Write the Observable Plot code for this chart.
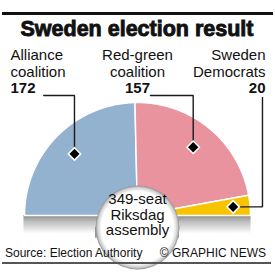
<!DOCTYPE html>
<html><head><meta charset="utf-8">
<script src="https://cdn.jsdelivr.net/npm/d3@7"></script>
<script src="https://cdn.jsdelivr.net/npm/@observablehq/plot@0.6"></script>
<style>
html,body{margin:0;padding:0;background:#fff;}
#wrap{position:relative;width:275px;height:275px;overflow:hidden;font-family:"Liberation Sans",Arial,sans-serif;color:#111;}
#rule-top{position:absolute;left:2px;top:12px;width:271px;height:3px;background:#111;}
#title{position:absolute;left:0;top:19px;width:274px;text-align:center;font-size:21.5px;line-height:21px;font-weight:bold;-webkit-text-stroke:0.9px #111;white-space:nowrap;}
#chart{position:absolute;left:0;top:42px;width:275px;height:203px;}
#source{position:absolute;left:5px;top:247px;font-size:12px;line-height:12px;white-space:nowrap;}
#credit{position:absolute;right:9px;top:247px;font-size:12px;line-height:12px;white-space:nowrap;}
#rule-bottom{position:absolute;left:2px;top:262px;width:269px;height:2px;background:#555;}
</style></head>
<body>
<div id="wrap">
  <div id="rule-top"></div>
  <div id="title"></div>
  <div id="chart"></div>
  <div id="source"></div>
  <div id="credit"></div>
  <div id="rule-bottom"></div>
</div>
<script>
// ---- data ----
const titleText = "Sweden election result";
const parties = ["Alliance coalition", "Red-green coalition", "Sweden Democrats"];
const labelLine1 = ["Alliance", "Red-green", "Sweden"];
const labelLine2 = ["coalition", "coalition", "Democrats"];
const seats = [172, 157, 20];
const colors = ["#93b2cf", "#e9939f", "#f8c400"];
const centerWords = ["Riksdag", "assembly"];
const sourceText = "Source: Election Authority";
const creditText = "© GRAPHIC NEWS";

document.getElementById("title").textContent = titleText;
document.getElementById("source").textContent = sourceText;
document.getElementById("credit").textContent = creditText;

// ---- geometry (units: outer radius = 1) ----
const W = 275, H = 203, CX = 137, CY = 173, R = 113;
const total = d3.sum(seats);
const centerLines = [`${total}-seat`, ...centerWords];

let cum = 0;
const segs = seats.map((s, i) => {
  const a0 = Math.PI * (1 - cum / total);
  cum += s;
  const a1 = Math.PI * (1 - cum / total);
  return {i, party: parties[i], a0, a1, mid: (a0 + a1) / 2};
});

const wedgePts = segs.flatMap(sg => {
  const n = 90;
  const pts = [{party: sg.party, x: 0, y: 0}];
  for (let k = 0; k <= n; k++) {
    const a = sg.a0 + (sg.a1 - sg.a0) * k / n;
    pts.push({party: sg.party, x: Math.cos(a), y: Math.sin(a)});
  }
  pts.push({party: sg.party, x: 0, y: 0});
  return pts;
});

const dR = [0.78, 0.78, 0.85];
const diamonds = segs.map((sg, i) => ({x: dR[i] * Math.cos(sg.mid), y: dR[i] * Math.sin(sg.mid)}));

const colX = [-1.124, 0, 1.133];
const anchors = ["start", "middle", "end"];
const lineStep = 16.5 / R;
const yL1 = 1.372, yL2 = yL1 - lineStep, yL3 = yL2 - lineStep;

const leaderY = 1.062;
const leaders = [
  {id: 0, x: -0.83, y: leaderY}, {id: 0, x: diamonds[0].x, y: leaderY}, {id: 0, x: diamonds[0].x, y: diamonds[0].y},
  {id: 1, x: 0.115, y: leaderY}, {id: 1, x: diamonds[1].x, y: leaderY}, {id: 1, x: diamonds[1].x, y: diamonds[1].y},
  {id: 2, x: 1.106, y: 1.044}, {id: 2, x: 1.106, y: diamonds[2].y}, {id: 2, x: diamonds[2].x, y: diamonds[2].y}
];

const archR = 42;
const archCy = -12 / R;
const font = "Liberation Sans, Arial, sans-serif";

const labelMarks = [0, 1, 2].flatMap(i => [
  Plot.text([labelLine1[i]], {x: colX[i], y: yL1, text: d => d, textAnchor: anchors[i], lineAnchor: "bottom", fontSize: 15, fontFamily: font, fill: "#111"}),
  Plot.text([labelLine2[i]], {x: colX[i], y: yL2, text: d => d, textAnchor: anchors[i], lineAnchor: "bottom", fontSize: 15, fontFamily: font, fill: "#111"}),
  Plot.text([String(seats[i])], {x: colX[i], y: yL3, text: d => d, textAnchor: anchors[i], lineAnchor: "bottom", fontSize: 15, fontWeight: "bold", fontFamily: font, fill: "#111"})
]);

const chart = Plot.plot({
  width: W, height: H, margin: 0,
  style: {background: "white", overflow: "visible"},
  x: {domain: [-CX / R, (W - CX) / R], axis: null},
  y: {domain: [-(H - CY) / R, CY / R], axis: null},
  color: {domain: parties, range: colors},
  marks: [
    Plot.rect([{}], {x1: -1.005, x2: 1.005, y1: -0.165, y2: 0, fill: "url(#shade)"}),
    Plot.line(wedgePts, {x: "x", y: "y", z: "party", fill: "party", stroke: "white", strokeWidth: 1.5, strokeLinejoin: "miter"}),
    Plot.rect([{}], {x1: -archR / R, x2: archR / R, y1: -0.2, y2: archCy, fill: "url(#sides)"}),
    Plot.dot([{x: 0, y: archCy}], {x: "x", y: "y", r: archR, fill: "url(#arch)", stroke: "none"}),
    Plot.text(centerLines, {x: 0, y: (d, i) => 0.1 - i * 15.5 / R, text: d => d, lineAnchor: "bottom", fontSize: 15, fontFamily: font, fill: "#111"}),
    Plot.line(leaders, {x: "x", y: "y", z: "id", stroke: "#1a1a1a", strokeWidth: 1.4, strokeLinejoin: "miter"}),
    Plot.dot(diamonds, {x: "x", y: "y", symbol: "diamond2", r: 5.6, fill: "#000", stroke: "white", strokeWidth: 1.5}),
    ...labelMarks
  ]
});

// gradients
const defs = d3.select(chart).insert("defs", ":first-child");
const shade = defs.append("linearGradient").attr("id", "shade").attr("x1", 0).attr("y1", 0).attr("x2", 0).attr("y2", 1);
shade.append("stop").attr("offset", 0).attr("stop-color", "#8a8a8a");
shade.append("stop").attr("offset", 0.35).attr("stop-color", "#bdbdbd");
shade.append("stop").attr("offset", 1).attr("stop-color", "#ffffff");
const arch = defs.append("radialGradient").attr("id", "arch");
arch.append("stop").attr("offset", 0).attr("stop-color", "#fff");
arch.append("stop").attr("offset", 0.86).attr("stop-color", "#fff");
arch.append("stop").attr("offset", 0.95).attr("stop-color", "#cfcfcf");
arch.append("stop").attr("offset", 1).attr("stop-color", "#8c8c8c");
const sides = defs.append("linearGradient").attr("id", "sides").attr("x1", 0).attr("y1", 0).attr("x2", 1).attr("y2", 0);
[[0, "#8c8c8c"], [0.05, "#cfcfcf"], [0.12, "#fff"], [0.88, "#fff"], [0.95, "#cfcfcf"], [1, "#8c8c8c"]]
  .forEach(([o, c]) => sides.append("stop").attr("offset", o).attr("stop-color", c));

document.getElementById("chart").appendChild(chart);
</script>
</body></html>
